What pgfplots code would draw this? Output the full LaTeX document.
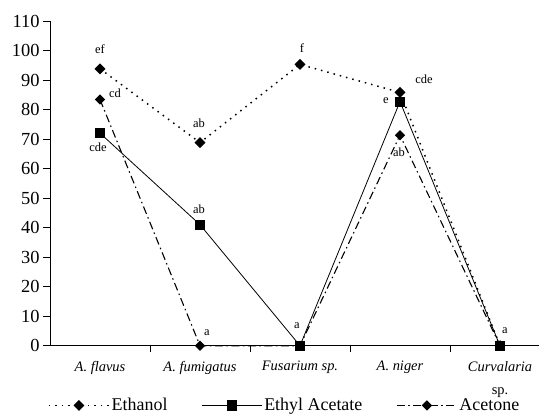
\documentclass[border=0pt]{standalone}
\usepackage{pgfplots}
\pgfplotsset{compat=1.18}
\usepackage{fontspec}
\setmainfont{Liberation Serif}

\pgfplotsset{
  ethanol/.style={black, line width=1.5bp, dash pattern=on 1.5bp off 5bp,
    mark=square*, mark size=3.1bp, mark options={solid, rotate=45}},
  ethyl/.style={black, line width=0.8bp, solid,
    mark=square*, mark size=4.6bp, mark options={solid}},
  acetone/.style={black, line width=1.1bp, dash pattern=on 8bp off 3.5bp on 1.5bp off 3.5bp,
    mark=square*, mark size=3.1bp, mark options={solid, rotate=45}},
}

\begin{document}
\begin{tikzpicture}
\path[use as bounding box] (0,0) rectangle (539bp,419bp);
\begin{axis}[
    at={(50bp,73.3bp)}, anchor=south west,
    scale only axis,
    width=489bp, height=324.7bp,
    xmin=0.5, xmax=5.39,
    ymin=0, ymax=110,
    axis x line*=bottom,
    axis y line*=left,
    ytick={0,10,...,110},
    xtick={1,...,5},
    xticklabels={A. flavus, A. fumigatus, Fusarium sp., A. niger, {Curvalaria\\\upshape sp.}},
    minor xtick={1.5,2.5,3.5,4.5},
    major x tick style={draw=none},
    tick align=outside,
    major tick length=7bp,
    minor tick length=6bp,
    tick style={black, line width=0.8bp},
    axis line style={black, line width=0.8bp},
    x tick label style={font=\fontsize{14.5}{23}\selectfont\itshape, align=center, anchor=north, yshift=-5bp},
    y tick label style={font=\fontsize{18.5}{20}\selectfont},
    /pgf/number format/assume math mode=true,
    clip=false,
    legend columns=3,
    legend style={at={(0.48,-0.184)}, anchor=center, draw=none, fill=none,
      font=\fontsize{18}{20}\selectfont,
      /tikz/every even column/.append style={column sep=32bp}},
    legend image code/.code={\draw[mark repeat=2,mark phase=2,#1] plot coordinates {(0bp,0bp) (30bp,0bp) (60bp,0bp)};},
  ]
  \addplot[ethanol, forget plot] coordinates {(1,93.8) (2,68.8) (3,95.3) (4,85.8) (5,0)};
  \addplot[acetone, forget plot] coordinates {(1,83.4) (2,0) (3,0) (4,71.3) (5,0)};
  \addplot[ethyl, forget plot] coordinates {(1,72) (2,41) (3,0) (4,82.7) (5,0)};

  \addlegendimage{ethanol}\addlegendentry{Ethanol}
  \addlegendimage{ethyl}\addlegendentry{Ethyl Acetate}
  \addlegendimage{acetone}\addlegendentry{Acetone}

  \begin{scope}[every node/.style={font=\fontsize{12.5}{14}\selectfont}]
  \node at (axis cs:1,100.5) {ef};
  \node at (axis cs:1.15,85.5) {cd};
  \node at (axis cs:0.98,67.3) {cde};
  \node at (axis cs:1.99,75.4) {ab};
  \node at (axis cs:1.99,46.3) {ab};
  \node at (axis cs:2.07,4.3) {a};
  \node at (axis cs:3.02,100.8) {f};
  \node at (axis cs:2.97,6.7) {a};
  \node at (axis cs:4.24,90.3) {cde};
  \node at (axis cs:3.86,82.9) {e};
  \node at (axis cs:3.99,65.6) {ab};
  \node at (axis cs:5.05,5.0) {a};
  \end{scope}
\end{axis}
\end{tikzpicture}
\end{document}
